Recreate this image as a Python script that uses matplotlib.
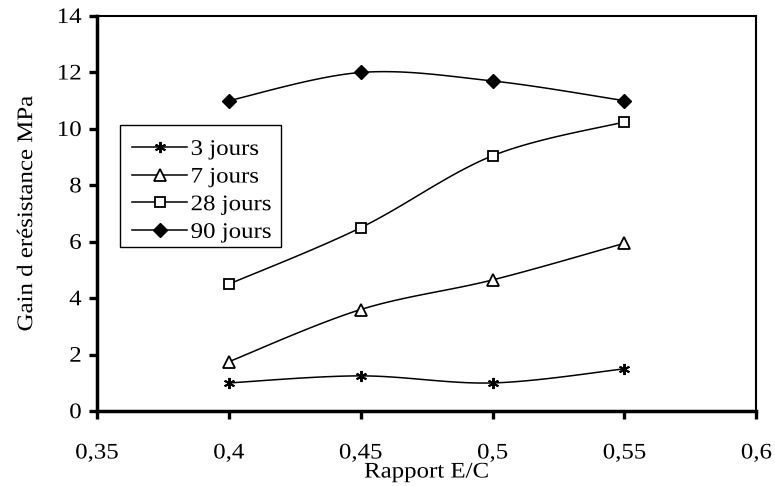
import numpy as np
import matplotlib
matplotlib.use('Agg')
import matplotlib.pyplot as plt
from matplotlib.ticker import FuncFormatter
from matplotlib.patheffects import AbstractPathEffect
from matplotlib.transforms import Affine2D
from matplotlib.patches import Rectangle

plt.rcParams['font.family'] = ['Liberation Serif', 'DejaVu Serif']

ratio = [0.40, 0.45, 0.50, 0.55]
gain_3j = [1.0, 1.25, 1.0, 1.5]
gain_7j = [1.75, 3.6, 4.65, 5.95]
gain_28j = [4.5, 6.5, 9.05, 10.25]
gain_90j = [11.0, 12.0, 11.7, 11.0]
labels = ['3 jours', '7 jours', '28 jours', '90 jours']

FS = 16
SX = 1.12


class Stretch(AbstractPathEffect):
    """Élargit le texte dans le sens de l'écriture (police du graphique d'origine plus large)."""

    def __init__(self, sx=SX, anchor='center'):
        super().__init__()
        self.sx = sx
        self.anchor = anchor

    def draw_path(self, renderer, gc, tpath, affine, rgbFace=None):
        ext = tpath.get_extents()
        cx = {'left': ext.x0, 'center': (ext.x0 + ext.x1) / 2, 'right': ext.x1}[self.anchor]
        tr = Affine2D().translate(-cx, 0).scale(self.sx, 1).translate(cx, 0)
        renderer.draw_path(gc, tpath, tr + affine, rgbFace)


def smooth(x, y, n=40):
    # courbe lissée type Excel (Bezier / Catmull-Rom)
    px = np.concatenate([[x[0]], x, [x[-1]]]).astype(float)
    py = np.concatenate([[y[0]], y, [y[-1]]]).astype(float)
    xs, ys = [], []
    t = np.linspace(0, 1, n)[:, None]
    for i in range(1, len(px) - 2):
        p0 = np.array([px[i], py[i]])
        p3 = np.array([px[i + 1], py[i + 1]])
        c1 = p0 + (p3 - np.array([px[i - 1], py[i - 1]])) / 6
        c2 = p3 - (np.array([px[i + 2], py[i + 2]]) - p0) / 6
        b = (1 - t) ** 3 * p0 + 3 * (1 - t) ** 2 * t * c1 + 3 * (1 - t) * t ** 2 * c2 + t ** 3 * p3
        xs.extend(b[:, 0])
        ys.extend(b[:, 1])
    return xs, ys


fig = plt.figure(figsize=(7.75, 4.86), dpi=100)
ax = fig.add_axes([0.125, 0.154, 0.851, 0.813])

styles = [
    dict(marker=(6, 2, 0), ms=8, mfc='black', mec='black', mew=1.4),
    dict(marker='^', ms=8.5, mfc='white', mec='black', mew=1.3),
    dict(marker='s', ms=7.5, mfc='white', mec='black', mew=1.3),
    dict(marker='D', ms=7.5, mfc='black', mec='black', mew=1.0),
]

for series, lab, st in zip([gain_3j, gain_7j, gain_28j, gain_90j], labels, styles):
    sx, sy = smooth(ratio, series)
    ax.plot(sx, sy, color='black', lw=1.1, zorder=2)
    ax.plot(ratio, series, linestyle='none', zorder=3, **st)
    ax.plot([], [], color='black', lw=1.1, label=lab, **st)

ax.set_xlim(0.35, 0.6)
ax.set_ylim(0, 14)
ax.set_xticks([0.35, 0.40, 0.45, 0.50, 0.55, 0.60])
ax.set_yticks(range(0, 15, 2))
ax.xaxis.set_major_formatter(FuncFormatter(lambda v, p: ('%g' % round(v, 2)).replace('.', ',')))

for side in ['left', 'bottom']:
    ax.spines[side].set_linewidth(2.5)
for side in ['top', 'right']:
    ax.spines[side].set_linewidth(1.5)

ax.tick_params(axis='both', direction='out', length=6, width=2.4, labelsize=FS, color='black')
ax.tick_params(axis='x', pad=18)
ax.tick_params(axis='y', pad=5)

ax.set_xlabel('Rapport E/C', fontsize=FS, labelpad=0, path_effects=[Stretch()])
ax.set_ylabel("Gain d erésistance MPa", fontsize=FS, labelpad=16, path_effects=[Stretch()])

for lbl in ax.get_xticklabels():
    lbl.set_path_effects([Stretch(anchor='center')])
for lbl in ax.get_yticklabels():
    lbl.set_path_effects([Stretch(anchor='right')])

leg = ax.legend(loc='upper left', bbox_to_anchor=(0.053, 0.688), fontsize=FS,
                frameon=False, borderpad=0, borderaxespad=0,
                handlelength=2.5, handletextpad=0.15, labelspacing=0.32)
for txt in leg.get_texts():
    txt.set_path_effects([Stretch(anchor='left')])

# cadre de la légende
ax.add_patch(Rectangle((0.035, 0.415), 0.244, 0.309, transform=ax.transAxes,
                       fill=False, edgecolor='black', lw=1.0, zorder=4))

fig.savefig('out.png', dpi=100)
